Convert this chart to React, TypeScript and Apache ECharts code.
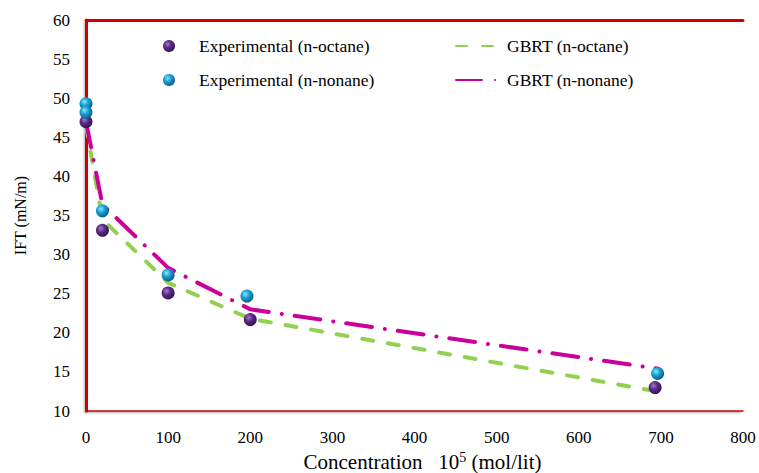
import React, { useEffect, useRef } from "react";
import * as echarts from "echarts";

const expOctaneConc = [0, 20, 100, 200, 693];
const expOctaneIFT = [47.0, 33.1, 25.1, 21.7, 13.0];
const expNonaneConc = [0, 0, 20, 100, 196, 696];
const expNonaneIFT = [49.3, 48.2, 35.6, 27.4, 24.7, 14.8];
const gbrtOctaneConc = [0, 20, 100, 200, 690];
const gbrtOctaneIFT = [46.5, 34.5, 26.4, 21.8, 12.6];
const gbrtNonaneConc = [0, 20, 100, 200, 697];
const gbrtNonaneIFT = [47.0, 36.4, 28.3, 23.0, 15.4];

const FONT = "'Liberation Serif', 'Times New Roman', serif";

const pair = (xs: number[], ys: number[]) => xs.map((x, i) => [x, ys[i]]);

const sphere = (hi: string, mid: string, lo: string) =>
  new echarts.graphic.RadialGradient(0.38, 0.35, 0.65, [
    { offset: 0, color: hi },
    { offset: 0.45, color: mid },
    { offset: 1, color: lo },
  ]);

export default function App() {
  const ref = useRef<HTMLDivElement>(null);
  useEffect(() => {
    if (!ref.current) return;
    const chart = echarts.init(ref.current, undefined, { renderer: "svg" });
    const purple = sphere("#a07ccc", "#5b2d86", "#33145a");
    const cyan = sphere("#8fe6ff", "#1aa2d4", "#0b5f88");
    const axisLabel = { color: "#000", fontFamily: FONT, fontSize: 17 };
    chart.setOption({
      animation: false,
      backgroundColor: "#fff",
      grid: {
        left: 86,
        top: 20,
        right: 16,
        bottom: 62,
        containLabel: false,
        outerBoundsMode: "none",
        show: true,
        backgroundColor: "#fff",
        borderWidth: 0,
        borderColor: "transparent",
        shadowColor: "rgba(0,0,0,0.3)",
        shadowBlur: 2,
        shadowOffsetX: -2,
        shadowOffsetY: 2,
      },
      legend: [
        {
          orient: "vertical",
          left: 158,
          top: 32,
          itemWidth: 50,
          itemHeight: 12,
          itemGap: 16,
          data: ["Experimental (n-octane)", "Experimental (n-nonane)"],
          textStyle: { color: "#000", fontFamily: FONT, fontSize: 17.5 },
        },
        {
          orient: "vertical",
          left: 450,
          top: 32,
          itemWidth: 42,
          itemHeight: 12,
          itemGap: 16,
          data: ["GBRT (n-octane)", "GBRT (n-nonane)"],
          itemStyle: { color: "rgba(0,0,0,0)", borderWidth: 0, opacity: 0 },
          textStyle: { color: "#000", fontFamily: FONT, fontSize: 17.5, padding: [0, 0, 0, 4] },
        },
      ],
      xAxis: [
        {
          type: "value",
          min: 0,
          max: 800,
          interval: 100,
          position: "bottom",
          splitLine: { show: false },
          axisTick: { show: false },
          axisLine: { lineStyle: { color: "#cc0000", width: 1.5 } },
          axisLabel: { ...axisLabel, margin: 18 },
          name: "Concentration   10{sup|5} (mol/lit)",
          nameLocation: "middle",
          nameGap: 38,
          nameTextStyle: {
            color: "#000",
            fontFamily: FONT,
            fontSize: 21,
            lineHeight: 22,
            padding: [0, 0, 0, 16],
            rich: { sup: { fontFamily: FONT, fontSize: 14, lineHeight: 22, verticalAlign: "top", color: "#000" } },
          },
        },
        {
          type: "value",
          min: 0,
          max: 800,
          position: "top",
          splitLine: { show: false },
          axisTick: { show: false },
          axisLabel: { show: false },
          axisLine: { lineStyle: { color: "#cc0000", width: 3 } },
        },
      ],
      yAxis: [
        {
          type: "value",
          min: 10,
          max: 60,
          interval: 5,
          position: "left",
          splitLine: { show: false },
          axisTick: { show: false },
          axisLine: { show: true, lineStyle: { color: "#cc0000", width: 1.5 } },
          axisLabel: { ...axisLabel, margin: 16 },
          name: "IFT (mN/m)",
          nameLocation: "middle",
          nameGap: 58,
          nameTextStyle: { color: "#000", fontFamily: FONT, fontSize: 16 },
        },
        {
          type: "value",
          min: 10,
          max: 60,
          position: "right",
          splitLine: { show: false },
          axisTick: { show: false },
          axisLabel: { show: false },
          axisLine: { show: true, lineStyle: { color: "#cc0000", width: 3 } },
        },
      ],
      series: [
        {
          name: "GBRT (n-octane)",
          type: "line",
          data: pair(gbrtOctaneConc, gbrtOctaneIFT),
          symbol: "none",
          z: 2,
          lineStyle: { color: "#92d050", width: 4, type: [11, 15], cap: "round" },
          itemStyle: { color: "#92d050" },
        },
        {
          name: "GBRT (n-nonane)",
          type: "line",
          data: pair(gbrtNonaneConc, gbrtNonaneIFT),
          symbol: "none",
          z: 2,
          lineStyle: { color: "#cc0099", width: 4, type: [26, 13, 0.1, 13], cap: "round" },
          itemStyle: { color: "#cc0099" },
        },
        {
          name: "Experimental (n-octane)",
          type: "scatter",
          data: pair(expOctaneConc, expOctaneIFT),
          symbolSize: 13,
          z: 5,
          itemStyle: { color: purple, opacity: 1 },
        },
        {
          name: "Experimental (n-nonane)",
          type: "scatter",
          data: pair(expNonaneConc, expNonaneIFT),
          symbolSize: 13,
          z: 5,
          itemStyle: { color: cyan, opacity: 1 },
        },
      ],
    });
    return () => chart.dispose();
  }, []);
  return (
    <div
      ref={ref}
      style={{ position: "absolute", left: 0, top: 0, width: 759, height: 473 }}
    />
  );
}
